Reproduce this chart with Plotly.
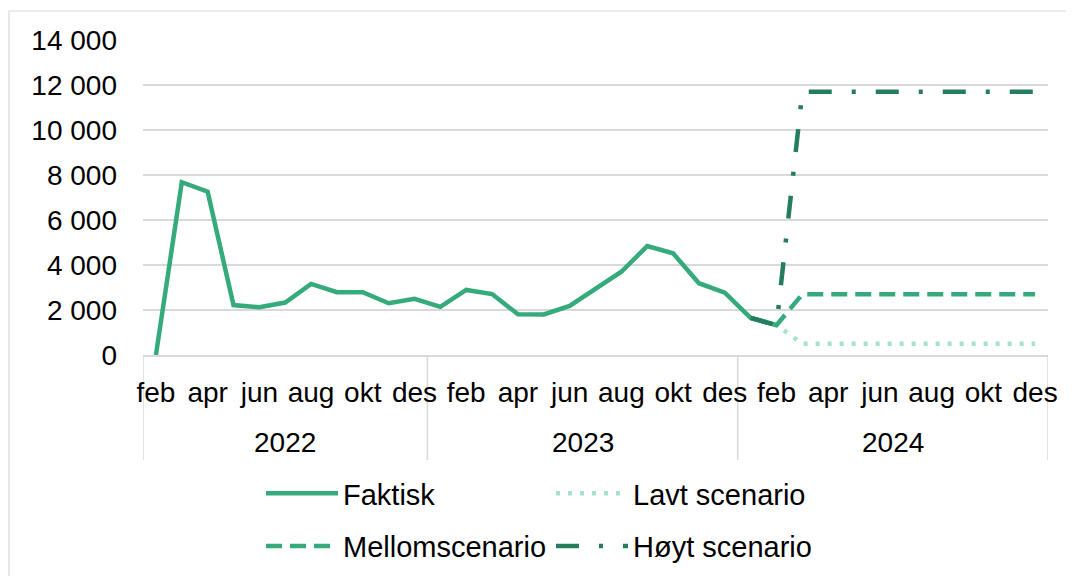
import plotly.graph_objects as go

years = ["2022", "2023", "2024"]
months_by_year = [
    ["feb", "mar", "apr", "mai", "jun", "jul", "aug", "sep", "okt", "nov", "des"],
    ["jan", "feb", "mar", "apr", "mai", "jun", "jul", "aug", "sep", "okt", "nov", "des"],
    ["jan", "feb", "mar", "apr", "mai", "jun", "jul", "aug", "sep", "okt", "nov", "des"],
]
categories = [f"{m} {y}" for y, ms in zip(years, months_by_year) for m in ms]
month_labels = [m for ms in months_by_year for m in ms]

faktisk = [0, 7680, 7260, 2220, 2120, 2330, 3160, 2790, 2790, 2300, 2500,
           2140, 2890, 2710, 1810, 1800, 2180, 2950, 3700, 4840, 4520, 3190, 2770,
           1650, 1330]
lavt = [None, None, None, None, None, None, None, None, None, None, None,
        None, None, None, None, None, None, None, None, None, None, None, None,
        1650, 1330, 500, 500, 500, 500, 500, 500, 500, 500, 500, 500]
mellom = [None, None, None, None, None, None, None, None, None, None, None,
          None, None, None, None, None, None, None, None, None, None, None, None,
          1650, 1330, 2700, 2700, 2700, 2700, 2700, 2700, 2700, 2700, 2700, 2700]
hoyt = [None, None, None, None, None, None, None, None, None, None, None,
        None, None, None, None, None, None, None, None, None, None, None, None,
        1650, 1330, 11700, 11700, 11700, 11700, 11700, 11700, 11700, 11700, 11700, 11700]

C_MAIN = "#35AA7B"
C_LIGHT = "#A6E3CA"
C_DARK = "#247E5B"
FONT = "Liberation Sans, Arial, sans-serif"
FS = 28
FS_LEG = 29

# page body has an 8px default margin: figure sized to fit the window
W, H = 1066, 568
PL, PT, PW, PH = 135, 32, 905, 315  # plot area in figure pixels

fig = go.Figure()
fig.add_trace(go.Scatter(x=categories[:len(faktisk)], y=faktisk, mode="lines", name="Faktisk",
                         line=dict(color=C_MAIN, width=4.5), legend="legend", legendgroup="a"))
fig.add_trace(go.Scatter(x=categories, y=lavt, mode="lines", name="Lavt scenario",
                         line=dict(color=C_LIGHT, width=4.5, dash="4px,8px"),
                         legend="legend2", legendgroup="b"))
fig.add_trace(go.Scatter(x=categories, y=mellom, mode="lines", name="Mellomscenario",
                         line=dict(color=C_MAIN, width=4.5, dash="16px,8px"),
                         legend="legend", legendgroup="c"))
fig.add_trace(go.Scatter(x=categories, y=hoyt, mode="lines", name="Høyt scenario",
                         line=dict(color=C_DARK, width=4.5, dash="23px,20px,4px,20px"),
                         legend="legend2", legendgroup="d"))


def px(sx):
    # screen x -> paper x
    return (sx - 8 - PL) / PW


def py(sy):
    # screen y -> paper y
    return (PT + PH - (sy - 8)) / PH


# year group labels and dividers
n_per_year = [len(ms) for ms in months_by_year]
bounds = [-0.5]
for n in n_per_year:
    bounds.append(bounds[-1] + n)
shapes = []
for b in bounds:
    shapes.append(dict(type="line", xref="x", yref="paper", x0=b, x1=b, y0=0, y1=py(460),
                       line=dict(color="#d9d9d9", width=1.5), layer="below"))
# outer chart border
shapes.append(dict(type="rect", xref="paper", yref="paper",
                   x0=px(9), x1=px(1100), y0=py(600), y1=py(11),
                   line=dict(color="#d9d9d9", width=1.2), fillcolor="rgba(0,0,0,0)", layer="below"))
annotations = []
for i, y in enumerate(years):
    annotations.append(dict(x=(bounds[i] + bounds[i + 1]) / 2, y=py(443),
                            xref="x", yref="paper", text=y, showarrow=False,
                            yanchor="middle", xanchor="center",
                            font=dict(family=FONT, size=FS, color="#000000")))

tickvals = categories[0::2]
ticktext = month_labels[0::2]

legend_common = dict(orientation="v", font=dict(family=FONT, size=FS_LEG, color="#000000"),
                     bgcolor="rgba(0,0,0,0)", tracegroupgap=12, itemwidth=72,
                     yanchor="top", xanchor="left")

fig.update_layout(
    width=W, height=H,
    margin=dict(l=PL, r=W - PL - PW, t=PT, b=H - PT - PH, autoexpand=False),
    paper_bgcolor="white", plot_bgcolor="white",
    separators=", ",
    showlegend=True,
    font=dict(family=FONT, size=FS, color="#000000"),
    xaxis=dict(type="category", categoryorder="array", categoryarray=categories,
               range=[-0.5, len(categories) - 0.5], tickmode="array",
               tickvals=tickvals, ticktext=ticktext, tickangle=0, automargin=False,
               showgrid=False, showline=True, linecolor="#d9d9d9", linewidth=1.5,
               ticks="", ticklabelstandoff=12,
               tickfont=dict(family=FONT, size=FS, color="#000000")),
    yaxis=dict(range=[0, 14000], dtick=2000, tickformat=",.0f", automargin=False,
               showgrid=True, gridcolor="#d9d9d9", gridwidth=1.5, zeroline=False,
               ticks="", ticklabelstandoff=25,
               tickfont=dict(family=FONT, size=FS, color="#000000")),
    legend=dict(x=px(261), y=py(468), **legend_common),
    legend2=dict(x=px(551), y=py(468), **legend_common),
    shapes=shapes,
    annotations=annotations,
)

fig.write_html("out.html")
